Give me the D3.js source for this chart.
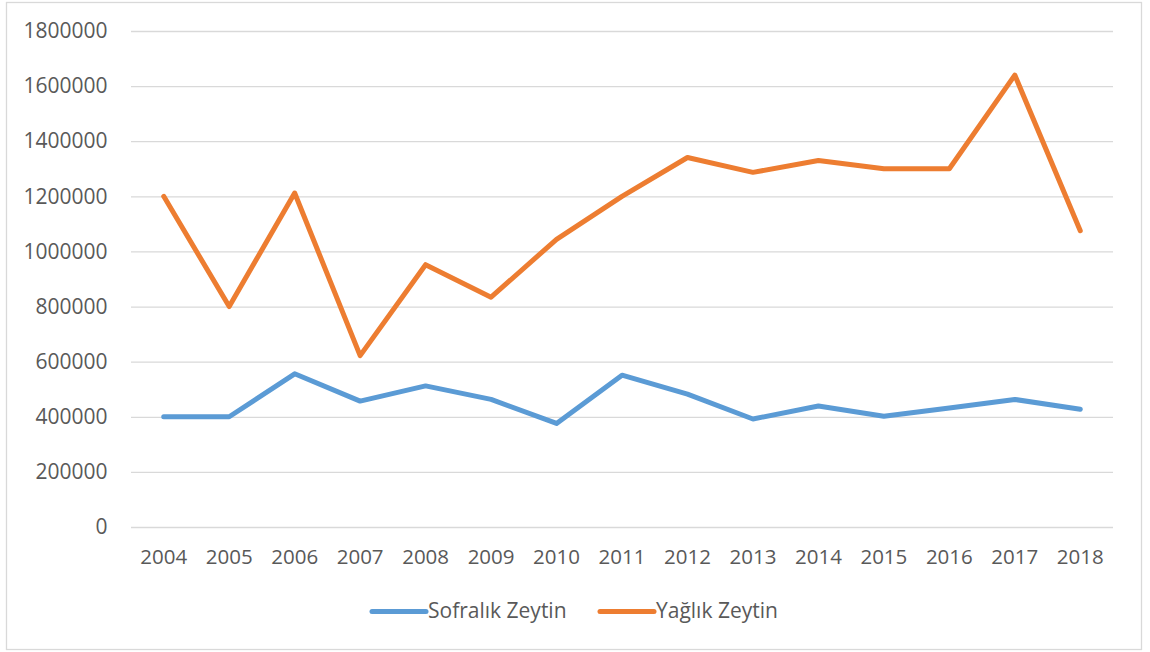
<!DOCTYPE html>
<html><head><meta charset="utf-8">
<script src="https://cdn.jsdelivr.net/npm/d3@7"></script>
<style>body{margin:0;background:#fff}svg{display:block}</style>
</head><body>
<svg id="c" width="1150" height="652"></svg>
<script>
const years = ["2004","2005","2006","2007","2008","2009","2010","2011","2012","2013","2014","2015","2016","2017","2018"];
const sofralik = [400000,400000,556000,457000,512000,463000,376000,551000,482000,392000,439000,402000,432000,463000,427000];
const yaglik = [1200000,800000,1212000,622000,952000,834000,1044000,1200000,1341000,1287000,1330000,1300000,1300000,1640000,1075000];
const seriesNames = ["Sofralık Zeytin","Yağlık Zeytin"];
const colors = ["#5B9BD5","#ED7D31"];
const yTicks = [0,200000,400000,600000,800000,1000000,1200000,1400000,1600000,1800000];

const svg = d3.select("#c");
const font = "'Open Sans', 'Noto Sans', sans-serif";
svg.append("rect").attr("x",6.5).attr("y",2.5).attr("width",1135).attr("height",647)
  .attr("fill","#fff").attr("stroke","#d9d9d9").attr("stroke-width",1.3);

const x = d3.scaleBand().domain(years).range([131,1113]);
const y = d3.scaleLinear().domain([0,1800000]).range([527,31]);

const gy = svg.append("g").attr("transform","translate(131,0)")
  .call(d3.axisLeft(y).tickValues(yTicks).tickSize(-(1113-131)).tickPadding(23.5).tickFormat(d3.format("d")));
gy.select(".domain").remove();
gy.selectAll(".tick line").attr("stroke","#d9d9d9").attr("stroke-width",1.3);
gy.selectAll(".tick text").attr("fill","#595959").style("font-family",font).style("font-size","21px");

const gx = svg.append("g").attr("transform","translate(0,527)")
  .call(d3.axisBottom(x).tickSize(0).tickPadding(22));
gx.select(".domain").remove();
gx.selectAll(".tick text").attr("fill","#595959").style("font-family",font).style("font-size","20.5px");

const line = d3.line().x((d,i)=>x(years[i])+x.bandwidth()/2).y(d=>y(d));
[sofralik,yaglik].forEach((s,k)=>{
  svg.append("path").datum(s).attr("d",line).attr("fill","none")
    .attr("stroke",colors[k]).attr("stroke-width",5)
    .attr("stroke-linejoin","round").attr("stroke-linecap","round");
});

const legX = [372,600];
seriesNames.forEach((n,k)=>{
  const g = svg.append("g").attr("transform",`translate(${legX[k]},611.5)`);
  g.append("line").attr("x1",0).attr("x2",54).attr("y1",0).attr("y2",0)
    .attr("stroke",colors[k]).attr("stroke-width",5).attr("stroke-linecap","round");
  g.append("text").attr("x",56).attr("y",6.5).attr("fill","#595959")
    .style("font-family",font).style("font-size","21px").text(n);
});
</script>
</body></html>
